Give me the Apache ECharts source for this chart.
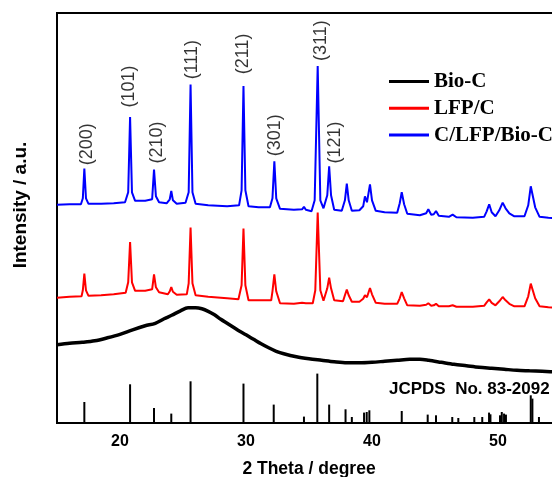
<!DOCTYPE html>
<html>
<head>
<meta charset="utf-8">
<script src="https://cdn.jsdelivr.net/npm/echarts@6/dist/echarts.min.js"></script>
<style>
  html, body { margin: 0; padding: 0; background: #fff; }
  #chart { width: 552px; height: 477px; }
</style>
</head>
<body>
<div id="chart"></div>
<script>
// [2 theta, intensity] (arbitrary units, curves stacked)
const bioC = [
  [15.0, 78.2], [16.0, 79.7], [17.0, 80.7], [18.0, 82.2], [19.0, 85.2], [20.0, 88.7],
  [21.0, 93.2], [22.0, 97.2], [22.8, 99.7], [23.5, 104.2], [24.1, 107.7], [24.8, 112.2],
  [25.4, 115.2], [26.0, 115.2], [26.5, 114.2], [27.0, 111.7], [27.5, 108.2], [28.0, 103.7],
  [28.5, 99.7], [29.0, 95.7], [29.5, 91.7], [30.0, 88.2], [30.6, 83.7], [31.2, 79.2],
  [31.8, 75.2], [32.4, 71.7], [33.0, 69.2], [34.0, 66.2], [35.0, 64.2], [36.0, 62.7],
  [37.0, 61.2], [38.0, 60.2], [39.0, 60.2], [40.0, 60.7], [41.0, 61.7], [42.0, 62.7],
  [43.0, 63.7], [43.8, 63.7], [44.5, 62.7], [45.5, 60.7], [46.5, 58.7], [47.5, 57.2],
  [48.5, 55.7], [49.5, 54.7], [50.5, 53.7], [51.5, 52.7], [52.5, 52.2], [53.5, 51.7],
  [55.0, 50.7]
];

const lfpC = [
  [15.0, 125.2], [16.0, 126.2], [16.95, 126.7], [17.05, 132.7], [17.17, 149.4], [17.3, 132.7],
  [17.5, 127.2], [18.5, 127.7], [19.5, 128.7], [20.45, 130.2], [20.65, 140.7], [20.8, 181.0],
  [20.95, 140.7], [21.2, 132.2], [22.0, 132.2], [22.55, 133.7], [22.7, 148.7], [22.85, 135.7],
  [23.1, 130.7], [23.8, 128.7], [23.95, 131.7], [24.07, 136.0], [24.2, 131.2], [24.5, 128.2],
  [25.3, 128.7], [25.45, 139.7], [25.6, 195.4], [25.75, 139.7], [26.0, 127.7], [27.0, 126.2],
  [28.5, 124.7], [29.4, 123.7], [29.65, 137.7], [29.8, 194.4], [29.95, 137.7], [30.2, 122.7],
  [31.0, 122.7], [32.0, 122.7], [32.1, 131.7], [32.25, 148.7], [32.4, 131.7], [32.7, 119.7],
  [33.8, 119.2], [34.45, 120.2], [34.6, 121.7], [34.75, 119.7], [35.3, 119.7], [35.5, 132.7],
  [35.69, 210.4], [35.9, 132.7], [36.15, 122.2], [36.45, 134.7], [36.6, 145.4], [36.75, 134.7],
  [37.0, 122.7], [37.7, 121.7], [37.85, 127.7], [38.0, 133.4], [38.15, 127.7], [38.4, 121.2],
  [39.0, 121.2], [39.3, 124.2], [39.44, 127.7], [39.6, 125.7], [39.84, 135.0], [40.0, 128.7],
  [40.3, 120.2], [41.0, 119.2], [42.0, 119.2], [42.2, 124.7], [42.36, 131.0], [42.55, 124.7],
  [42.8, 117.7], [43.8, 117.2], [44.3, 118.2], [44.47, 119.7], [44.7, 117.2], [44.9, 117.7],
  [45.08, 119.2], [45.3, 116.7], [46.1, 116.7], [46.4, 117.7], [46.7, 116.2], [48.0, 116.2],
  [48.9, 117.2], [49.1, 120.7], [49.3, 123.7], [49.5, 120.2], [49.8, 117.7], [50.1, 121.7],
  [50.37, 126.0], [50.6, 122.7], [50.9, 119.2], [51.3, 116.7], [52.1, 116.7], [52.4, 126.7],
  [52.6, 139.4], [52.75, 137.7], [52.95, 124.7], [53.3, 116.7], [54.0, 115.7], [55.0, 114.7]
];

const cLfpBioC = [
  [15.0, 218.2], [16.0, 218.7], [16.9, 218.7], [17.05, 224.7], [17.17, 254.4], [17.3, 224.7],
  [17.5, 219.2], [18.5, 219.2], [19.5, 219.7], [20.4, 220.7], [20.65, 230.7], [20.8, 306.0],
  [20.95, 230.7], [21.2, 222.2], [22.0, 222.2], [22.55, 223.7], [22.7, 253.4], [22.85, 226.7],
  [23.1, 220.7], [23.7, 219.7], [23.95, 223.7], [24.07, 232.0], [24.2, 222.7], [24.5, 219.2],
  [25.2, 220.2], [25.45, 230.7], [25.6, 338.4], [25.75, 230.7], [26.0, 219.2], [27.0, 217.7],
  [28.5, 216.7], [29.45, 217.7], [29.65, 232.7], [29.8, 337.0], [29.95, 232.7], [30.2, 216.7],
  [31.0, 215.7], [31.9, 215.7], [32.1, 224.7], [32.25, 261.7], [32.4, 224.7], [32.7, 214.2],
  [33.8, 213.2], [34.45, 213.7], [34.6, 216.2], [34.75, 213.2], [35.2, 211.7], [35.45, 222.7],
  [35.69, 357.0], [35.9, 222.7], [36.15, 214.7], [36.45, 227.7], [36.6, 256.7], [36.75, 227.7],
  [37.0, 213.2], [37.6, 212.2], [37.85, 222.7], [38.0, 239.4], [38.15, 222.7], [38.4, 212.2],
  [39.0, 212.7], [39.3, 216.7], [39.44, 226.7], [39.6, 220.7], [39.84, 238.7], [40.0, 222.7],
  [40.3, 212.2], [41.0, 210.7], [42.0, 210.2], [42.2, 219.7], [42.36, 230.7], [42.55, 218.7],
  [42.8, 209.2], [43.8, 207.7], [44.3, 209.7], [44.47, 213.7], [44.7, 208.2], [44.9, 208.7],
  [45.08, 212.0], [45.3, 207.2], [46.1, 206.2], [46.4, 208.4], [46.7, 205.7], [48.0, 205.2],
  [48.9, 206.2], [49.1, 211.7], [49.3, 218.7], [49.5, 210.7], [49.8, 206.7], [50.1, 212.7],
  [50.37, 220.4], [50.6, 214.7], [50.9, 209.7], [51.3, 206.7], [52.1, 206.7], [52.4, 217.7],
  [52.6, 236.7], [52.75, 234.7], [52.95, 215.7], [53.3, 206.2], [54.0, 205.2], [55.0, 204.7]
];

// reference stick pattern JCPDS 83-2092
const jcpdsPeaks = [
  [17.17, 21.0], [20.8, 38.7], [22.7, 15.0], [24.07, 9.4], [25.6, 41.7], [29.8, 39.4],
  [32.2, 18.4], [34.6, 6.4], [35.66, 49.4], [36.6, 18.4], [37.9, 13.7], [38.4, 6.0],
  [39.37, 10.4], [39.58, 11.0], [39.79, 12.7], [42.36, 12.0], [44.42, 8.4], [45.08, 7.7],
  [46.37, 6.0], [46.85, 5.0], [48.12, 6.0], [48.75, 6.0], [49.29, 10.4], [49.4, 8.7],
  [50.16, 7.7], [50.3, 11.0], [50.48, 9.4], [50.63, 8.4], [52.6, 27.7], [52.73, 24.4],
  [53.25, 6.0]
];

const millerLabels = ['(200)', '(101)', '(210)', '(111)', '(211)', '(301)', '(311)', '(121)'];
const millerPos = [
  [17.40, 257.7], [20.71, 315.4], [22.91, 259.4], [25.69, 343.7],
  [29.74, 348.7], [32.30, 266.7], [35.93, 362.0], [37.09, 259.4]
];

const xTicks = [20, 30, 40, 50];
const seriesNames = ['Bio-C', 'LFP/C', 'C/LFP/Bio-C'];

const chart = echarts.init(document.getElementById('chart'));
chart.setOption({
  animation: false,
  grid: {
    left: 57,
    top: 13,
    right: -9,
    bottom: 54,
    outerBoundsMode: 'none',
    show: true,
    borderColor: '#000',
    borderWidth: 2,
  },
  title: {
    text: 'JCPDS  No. 83-2092',
    left: 389,
    top: 381,
    padding: 0,
    textStyle: {
      fontFamily: 'Liberation Sans',
      fontWeight: 'bold',
      fontSize: 17,
      color: '#000',
    },
  },
  legend: {
    data: seriesNames,
    orient: 'vertical',
    left: 389,
    top: 71,
    padding: 0,
    icon: 'rect',
    itemWidth: 40,
    itemHeight: 3,
    itemGap: 5.8,
    textStyle: {
      fontFamily: 'Liberation Serif',
      fontWeight: 'bold',
      fontSize: 21,
      lineHeight: 20,
      color: '#000',
    },
  },
  xAxis: {
    type: 'value',
    min: 15,
    max: 55,
    interval: 5,
    axisLine: { show: false },
    axisTick: { show: false },
    splitLine: { show: false },
    axisLabel: {
      margin: 11,
      fontFamily: 'Liberation Sans',
      fontWeight: 'bold',
      fontSize: 16,
      color: '#000',
      formatter: (v) => (xTicks.includes(v) ? String(v) : ''),
    },
    name: '2 Theta / degree',
    nameLocation: 'middle',
    nameGap: 37,
    nameTextStyle: {
      fontFamily: 'Liberation Sans',
      fontWeight: 'bold',
      fontSize: 17.5,
      color: '#000',
    },
  },
  yAxis: {
    type: 'value',
    min: 0,
    max: 410,
    axisLine: { show: false },
    axisTick: { show: false },
    axisLabel: { show: false },
    splitLine: { show: false },
    name: 'Intensity / a.u.',
    nameLocation: 'middle',
    nameGap: 27,
    nameTextStyle: {
      fontFamily: 'Liberation Sans',
      fontWeight: 'bold',
      fontSize: 19,
      color: '#000',
      padding: [0, 0, 0, 26],
    },
  },
  series: [
    {
      name: 'JCPDS',
      type: 'bar',
      data: jcpdsPeaks,
      barWidth: 2,
      itemStyle: { color: '#000' },
      silent: true,
    },
    {
      name: seriesNames[0],
      type: 'line',
      data: bioC,
      symbol: 'none',
      smooth: 0.3,
      lineStyle: { color: '#000', width: 3.5 },
      itemStyle: { color: '#000' },
    },
    {
      name: seriesNames[1],
      type: 'line',
      data: lfpC,
      symbol: 'none',
      lineStyle: { color: '#ff0000', width: 2 },
      itemStyle: { color: '#ff0000' },
    },
    {
      name: seriesNames[2],
      type: 'line',
      data: cLfpBioC,
      symbol: 'none',
      lineStyle: { color: '#0000ff', width: 2 },
      itemStyle: { color: '#0000ff' },
    },
    {
      name: 'hkl',
      type: 'scatter',
      data: millerPos,
      symbolSize: 1,
      itemStyle: { color: 'rgba(0,0,0,0)' },
      silent: true,
      label: {
        show: true,
        position: [0.5, 0.5],
        rotate: 90,
        align: 'left',
        verticalAlign: 'middle',
        fontFamily: 'Liberation Sans',
        fontSize: 18,
        color: '#000',
        formatter: (p) => millerLabels[p.dataIndex],
      },
    },
  ],
});
</script>
</body>
</html>
